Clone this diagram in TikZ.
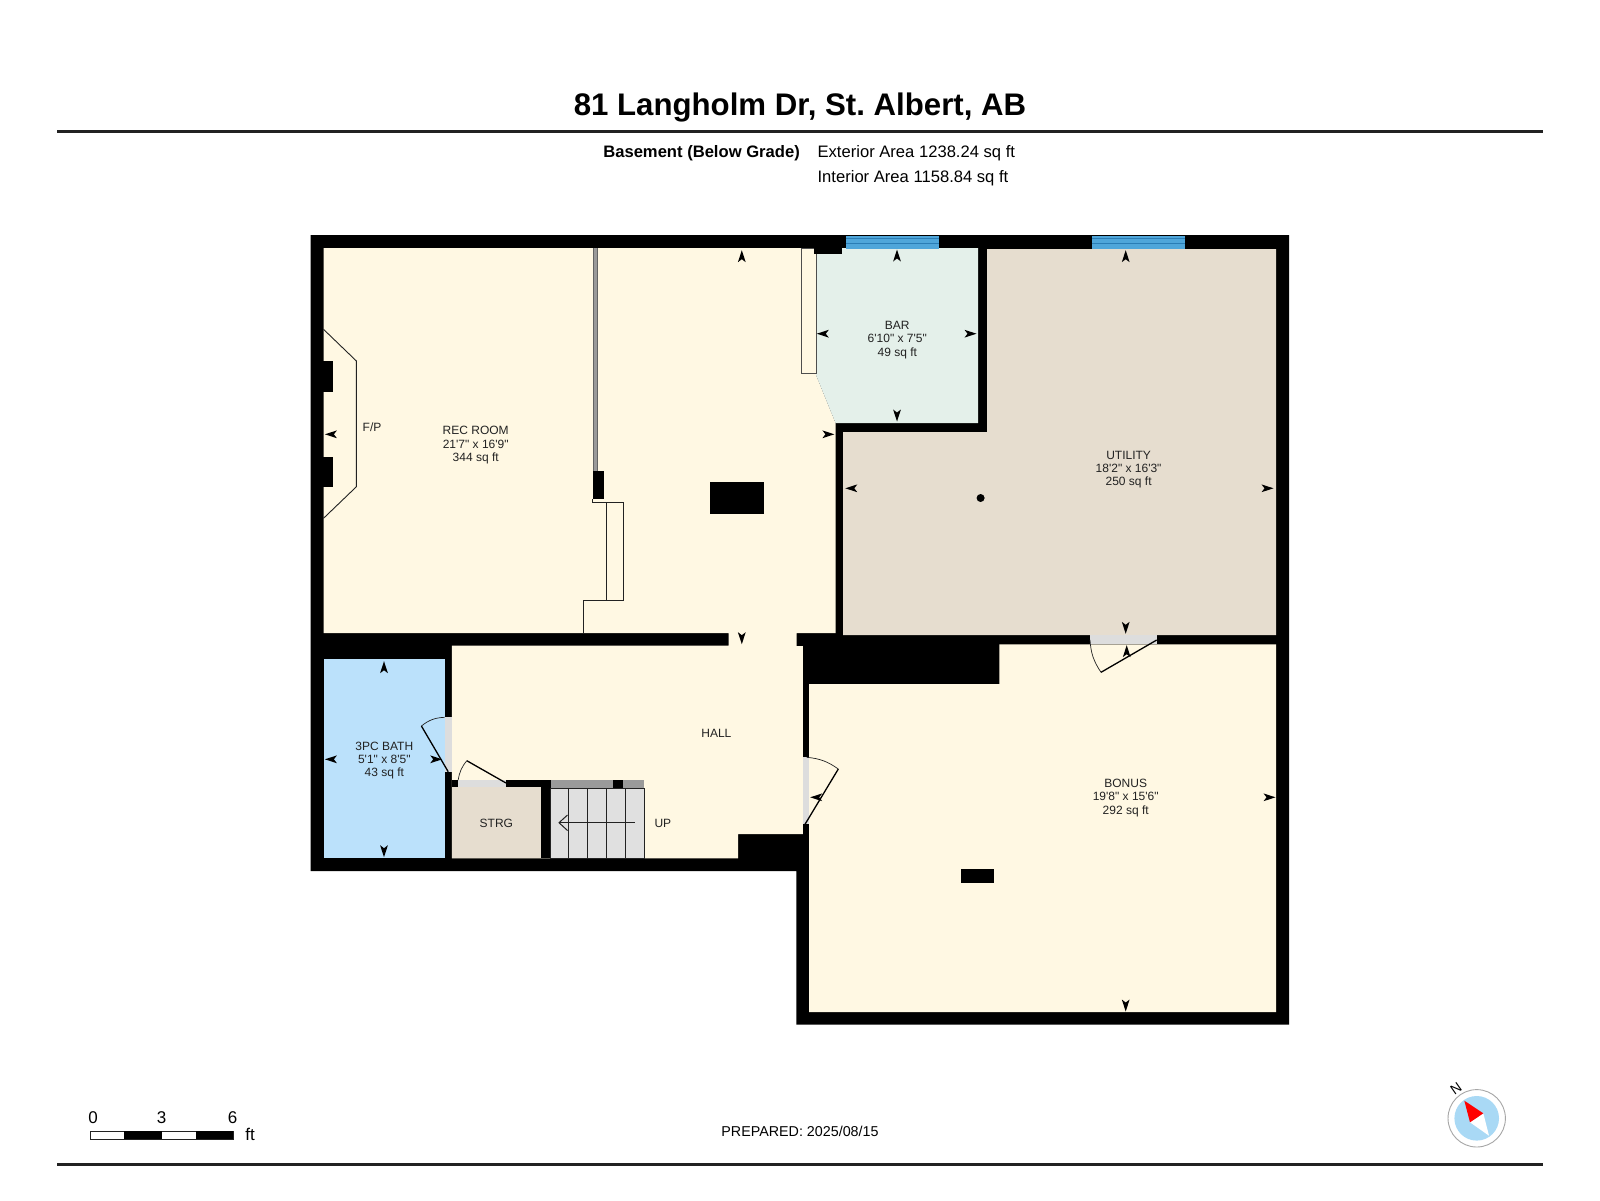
\documentclass[tikz,border=0pt]{standalone}
\usepackage{fontspec}
\frenchspacing
\newfontfamily\planfont{Liberation Sans}
\definecolor{cream}{HTML}{FFF8E3}
\definecolor{barc}{HTML}{E4F0EA}
\definecolor{util}{HTML}{E6DDCF}
\definecolor{bathc}{HTML}{BBE1FB}
\definecolor{stairc}{HTML}{E0E0E0}
\definecolor{doorc}{HTML}{DDDDDD}
\definecolor{winc}{HTML}{4FA6DA}
\definecolor{wind}{HTML}{2A7DB5}
\definecolor{railc}{HTML}{9A9A9A}
\definecolor{inkc}{HTML}{222222}
\definecolor{dialc}{HTML}{A9D9F5}
\tikzset{
  roomlabel/.style={inner sep=0pt,align=center,text=inkc,font=\planfont\fontsize{12}{13.3}\selectfont},
  thinline/.style={draw=inkc,line width=0.9pt},
  leaf/.style={draw=black,line width=1.3pt},
  swing/.style={draw=inkc,line width=0.7pt},
  wallblock/.style={fill=black},
  tiphead/.pic={\fill[black] (0,-6.5) -- (3.9,5.5) -- (0,2.5) -- (-3.9,5.5) -- cycle;}
}
\begin{document}
\begin{tikzpicture}[x=1pt,y=-1pt]
\useasboundingbox (0,0) rectangle (1600,1200);
\fill[white] (0,0) rectangle (1600,1200);
% header
\node[inner sep=0pt,font=\planfont\bfseries\fontsize{31.2}{36}\selectfont] (title) at (800,107) {81 Langholm Dr, St. Albert, AB};
\fill[inkc] (57,129.5) rectangle (1543,132.5);
\node[inner sep=0pt,anchor=east,font=\planfont\bfseries\fontsize{16.6}{19}\selectfont] (level) at (800,153) {Basement (Below Grade)};
\node[inner sep=0pt,anchor=west,font=\planfont\fontsize{16.6}{19}\selectfont] (ext) at (817.4,153) {Exterior Area 1238.24 sq ft};
\node[inner sep=0pt,anchor=west,font=\planfont\fontsize{16.6}{19}\selectfont] (int) at (817.4,178.5) {Interior Area 1158.84 sq ft};
% walls (solid footprint)
\fill[black] (310.7,235) -- (1289,235) -- (1289,1024.7) -- (796.4,1024.7) -- (796.4,871) -- (310.7,871) -- cycle;
% floors
\fill[cream] (323.5,248) -- (816,248) -- (816,375) -- (835.5,423) -- (835.5,633) -- (796.7,633) -- (796.7,646) -- (802.9,646) -- (802.9,834) -- (738,834) -- (738,858.3) -- (451.8,858.3) -- (451.8,645.7) -- (728.6,645.7) -- (728.6,633) -- (323.5,633) -- cycle;
\fill[barc] (816,248) -- (978,248) -- (978,423) -- (835.5,423) -- (816,375) -- cycle;
\fill[util] (987,249) -- (1276,249) -- (1276,635) -- (843,635) -- (843,432) -- (987,432) -- cycle;
\fill[cream] (809,684) -- (999.3,684) -- (999.3,644.3) -- (1276,644.3) -- (1276,1012) -- (809,1012) -- cycle;
\fill[bathc] (323.5,659.3) rectangle (444.6,858.3);
\fill[util] (451.8,787.3) rectangle (541,858.3);
% windows
\foreach \xa/\xb in {846/939.3,1092/1185}{
  \fill[winc] (\xa,235.5) rectangle (\xb,248.5);
  \draw[wind,line width=0.7pt] (\xa,238.8) -- (\xb,238.8) (\xa,243.5) -- (\xb,243.5);
}
% half wall by the bar
\filldraw[fill=cream,draw=inkc!80,line width=1pt] (801,248) rectangle (816,373.3);
% internal blocks
\fill[wallblock] (814.3,247) rectangle (841.8,254.3);
\fill[wallblock] (709.6,482.3) rectangle (763.9,513.7);
\fill[wallblock] (961,869) rectangle (994,882.5);
\fill[black] (980.6,498) circle (4);
% fireplace
\draw[thinline] (323.5,329.3) -- (356.4,361) -- (356.4,486.7) -- (323.5,518.3);
\fill[wallblock] (322,361) rectangle (332.5,391.7);
\fill[wallblock] (322,456.7) rectangle (332.5,486.7);
% partition, low wall
\fill[railc] (592.9,248) rectangle (597,471.3);
\draw[inkc!70,line width=0.5pt] (592.9,248) -- (592.9,471.3) (597,248) -- (597,471.3);
\fill[wallblock] (592.5,471.3) rectangle (604.3,499);
\draw[thinline] (592.9,499) -- (592.9,502.3) -- (623.9,502.3) -- (623.9,600.3) -- (583.2,600.3) -- (583.2,633);
\draw[thinline] (606.8,502.3) -- (606.8,600.3);
% storage walls
\fill[wallblock] (451.5,780) rectangle (458.2,787.3);
\fill[wallblock] (506,780) rectangle (550.7,787.3);
\fill[wallblock] (541,780) rectangle (550.7,858.3);
% stairs
\filldraw[fill=stairc,draw=inkc,line width=0.8pt] (550.7,788.3) rectangle (644.3,858.3);
\foreach \sx in {568.6,587.5,606.8,625.7}{\draw[inkc,line width=0.9pt] (\sx,788.3) -- (\sx,858.3);}
\fill[railc] (550.7,780) rectangle (644.3,788.3);
\fill[wallblock] (612.5,780) rectangle (622.5,788.3);
\draw[thinline,line width=1pt] (634.6,822.7) -- (559,822.7);
\draw[thinline,line width=1pt] (567.5,815) -- (559,822.7) -- (567.5,830.5);
% doors
\fill[doorc] (444.6,717.3) rectangle (451.8,771.7);
\fill[doorc] (458.2,780) rectangle (506,787.3);
\fill[doorc] (803.3,757.3) rectangle (809.3,824.3);
\fill[doorc] (1090,635) rectangle (1156.7,644.3);
\draw[leaf] (448.2,771.7) -- (421.4,726);
\draw[swing] (421.4,726) to[bend left=18] (444.6,717.3);
\draw[leaf] (506,783) -- (466.8,760.7);
\draw[swing] (466.8,760.7) to[bend right=15] (458.2,780);
\draw[leaf] (805,824.3) -- (838.3,769);
\draw[swing] (838.3,769) to[bend right=15] (806.7,757.3);
\draw[leaf] (1156.7,640) -- (1101,672.3);
\draw[swing] (1101,672.3) to[bend left=15] (1090,640);
% dimension ticks: position / rotation (0 = points up)
\foreach \ax/\ay/\ar in {
  741.8/256.7/0, 741.8/637.7/180, 331.4/434.3/90, 827.9/434.3/-90,
  384/667.7/0, 384/850.7/180, 331.4/759.3/90, 435.7/759.3/-90,
  897/256/0, 897/415/180, 823.3/333.7/90, 970/333.7/-90,
  1125.7/256.7/0, 1125.7/627.3/180, 851.8/488.3/90, 1267/488.3/-90,
  1126.7/651.7/0, 1125.7/1005/180, 816.7/797.3/90, 1269/797.3/-90}{
  \pic[rotate=\ar] at (\ax,\ay) {tiphead};
}
% room labels
\node[roomlabel] (rec) at (475.7,445.2) {REC ROOM\\21'7" x 16'9"\\344 sq ft};
\node[roomlabel] (fp) at (372,427) {F/P};
\node[roomlabel] (bar) at (897.3,340) {BAR\\6'10" x 7'5"\\49 sq ft};
\node[roomlabel] (utility) at (1128.6,469.5) {UTILITY\\18'2" x 16'3"\\250 sq ft};
\node[roomlabel] (bonus) at (1125.7,798) {BONUS\\19'8" x 15'6"\\292 sq ft};
\node[roomlabel] (bath) at (384.3,760.5) {3PC BATH\\5'1" x 8'5"\\43 sq ft};
\node[roomlabel] (hall) at (716.4,733.7) {HALL};
\node[roomlabel] (strg) at (496.4,823.7) {STRG};
\node[roomlabel] (up) at (662.9,823.7) {UP};
% scale bar
\filldraw[fill=white,draw=inkc,line width=0.6pt] (90,1131) rectangle (233.3,1139.3);
\fill[black] (124.3,1131) rectangle (161.7,1139.3);
\fill[black] (196,1131) rectangle (233.3,1139.3);
\node[inner sep=0pt,font=\planfont\fontsize{17}{20}\selectfont] (s0) at (93,1117.3) {0};
\node[inner sep=0pt,font=\planfont\fontsize{17}{20}\selectfont] (s3) at (161.7,1117.3) {3};
\node[inner sep=0pt,font=\planfont\fontsize{17}{20}\selectfont] (s6) at (232.7,1117.3) {6};
\node[inner sep=0pt,font=\planfont\fontsize{17}{20}\selectfont] (sft) at (250,1134.5) {ft};
% footer
\node[inner sep=0pt,font=\planfont\fontsize{14.3}{16}\selectfont] (prep) at (800,1131.6) {PREPARED: 2025/08/15};
\fill[inkc] (57,1162.5) rectangle (1543,1165.5);
% compass
\draw[fill=white,draw=black!35,line width=0.9pt] (1476.7,1118.3) circle (28.7);
\fill[dialc] (1476.7,1118.3) circle (22.3);
\fill[white] (1470,1122.3) -- (1489,1135.7) -- (1483.3,1113.3) -- cycle;
\fill[red] (1464.3,1100.7) -- (1483.3,1113.3) -- (1470,1122.3) -- cycle;
\node[inner sep=0pt,rotate=35,font=\planfont\fontsize{14}{16}\selectfont] (north) at (1456,1088.3) {N};
\end{tikzpicture}
\end{document}
